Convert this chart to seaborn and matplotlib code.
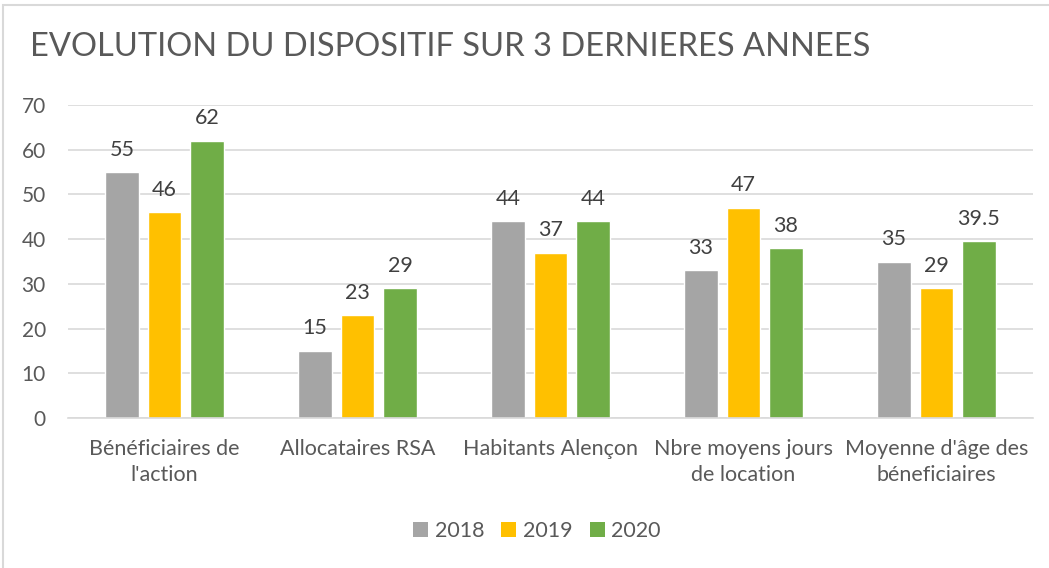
import matplotlib
matplotlib.use("Agg")
import matplotlib.pyplot as plt
import seaborn as sns
import pandas as pd
from matplotlib.patches import Rectangle, Patch

categories = [
    "Bénéficiaires de\nl'action",
    "Allocataires RSA",
    "Habitants Alençon",
    "Nbre moyens jours\nde location",
    "Moyenne d'âge des\nbéneficiaires",
]
years = ["2018", "2019", "2020"]
values_2018 = [55, 15, 44, 33, 35]
values_2019 = [46, 23, 37, 47, 29]
values_2020 = [62, 29, 44, 38, 39.5]
colors = ["#A5A5A5", "#FFC000", "#70AD47"]
yticks = [0, 10, 20, 30, 40, 50, 60, 70]

df = pd.DataFrame({
    "categorie": categories * 3,
    "annee": [years[0]] * 5 + [years[1]] * 5 + [years[2]] * 5,
    "valeur": values_2018 + values_2019 + values_2020,
})

sns.set_theme(style="white")
plt.rcParams["font.family"] = ["Lato", "DejaVu Sans"]

text_col = "#595959"
fig = plt.figure(figsize=(10.49, 5.68), dpi=100)
ax = fig.add_axes([68 / 1049, 1 - 418 / 568, (1033 - 68) / 1049, (418 - 105) / 568])

sns.barplot(data=df, x="categorie", y="valeur", hue="annee", palette=colors,
            width=0.66, gap=0.22, ax=ax, legend=False, saturation=1)

for cont in ax.containers:
    labels = [("%g" % b.get_height()) for b in cont]
    ax.bar_label(cont, labels=labels, padding=9, fontsize=15.5, color="#404040")

ax.set_ylim(0, 70)
ax.set_yticks(yticks)
ax.set_yticklabels([str(t) for t in yticks], fontsize=15, color=text_col)
ax.tick_params(axis="y", length=0, pad=16)
ax.tick_params(axis="x", length=0, pad=15, labelsize=15.5, labelcolor=text_col)
ax.set_xlim(-0.5, 4.5)
ax.set_xlabel("")
ax.set_ylabel("")
ax.yaxis.grid(True, color="#D9D9D9", linewidth=1.2)
ax.set_axisbelow(True)
for s in ["top", "right", "left"]:
    ax.spines[s].set_visible(False)
ax.spines["bottom"].set_color("#D9D9D9")
ax.spines["bottom"].set_linewidth(1.2)
for lbl in ax.get_xticklabels():
    lbl.set_linespacing(1.4)

fig.text(30 / 1049, 1 - 47 / 568, "EVOLUTION DU DISPOSITIF SUR 3 DERNIERES ANNEES",
         fontsize=23.5, color=text_col, va="center", ha="left")

handles = [Patch(facecolor=c, edgecolor="none") for c in colors]
fig.legend(handles, years, loc="center", bbox_to_anchor=(537 / 1049, 1 - 531 / 568),
           ncol=3, frameon=False, fontsize=15.5, handlelength=0.7, handleheight=0.7,
           handletextpad=0.3, columnspacing=0.8, labelcolor=text_col)

# chart frame, running past the right and bottom edges
fig.patches.append(Rectangle((3 / 1049, -0.05), 1.1, 1 - 5.5 / 568 + 0.05,
                             transform=fig.transFigure, fill=False,
                             edgecolor="#D9D9D9", linewidth=1.5))

fig.savefig("out.png", dpi=100)
